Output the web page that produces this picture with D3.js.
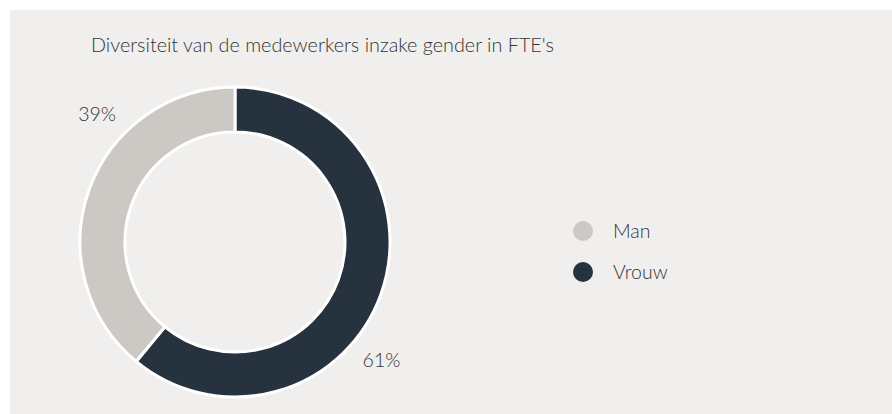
<!DOCTYPE html>
<html><head><meta charset="utf-8">
<script src="https://cdn.jsdelivr.net/npm/d3@7"></script>
<style>
html,body{margin:0;padding:0;background:#fff;}
svg{display:block;font-family:Lato,"Open Sans",sans-serif;font-weight:300;}
</style></head>
<body>
<svg id="c" width="892" height="414"></svg>
<script>
const title = "Diversiteit van de medewerkers inzake gender in FTE's";
const categories = ["Vrouw", "Man"];
const values = [61, 39];
const colors = ["#26323e", "#ccc9c4"];
const legendOrder = ["Man", "Vrouw"];

const svg = d3.select("#c");
svg.append("rect").attr("x",10).attr("y",10).attr("width",882).attr("height",404).attr("fill","#f0efed");

svg.append("text").attr("x",91).attr("y",52).attr("font-size",19.8).attr("fill","#333").text(title);

const cx = 235, cy = 242, R = 155, r = 110;
const data = categories.map((c,i)=>({cat:c, value:values[i], color:colors[i]}));
const pie = d3.pie().sort(null).value(d=>d.value);
const arcs = pie(data);
const arc = d3.arc().innerRadius(r).outerRadius(R);
const g = svg.append("g").attr("transform",`translate(${cx},${cy})`);
g.selectAll("path").data(arcs).join("path")
  .attr("d",arc).attr("fill",d=>d.data.color)
  .attr("stroke","#fff").attr("stroke-width",3).attr("stroke-linejoin","round");

const labelR = 188;
const labelShiftDeg = {Vrouw: 19, Man: 23};
g.selectAll("text.lbl").data(arcs).join("text").attr("class","lbl")
  .each(function(d){
    const a = (d.startAngle+d.endAngle)/2 + labelShiftDeg[d.data.cat]*Math.PI/180;
    d3.select(this).attr("x", labelR*Math.sin(a)).attr("y", -labelR*Math.cos(a));
  })
  .attr("text-anchor","middle").attr("dy","0.35em")
  .attr("font-size",19.5).attr("fill","#333")
  .text(d=>d.data.value+"%");

const ly = d3.scalePoint().domain(legendOrder).range([231,272]);
const leg = svg.append("g");
legendOrder.forEach(name=>{
  const i = categories.indexOf(name);
  leg.append("circle").attr("cx",583).attr("cy",ly(name)).attr("r",10).attr("fill",colors[i]);
  leg.append("text").attr("x",613).attr("y",ly(name)).attr("dy","0.36em")
    .attr("font-size",19.5).attr("fill","#333").text(name);
});
</script>
</body></html>
